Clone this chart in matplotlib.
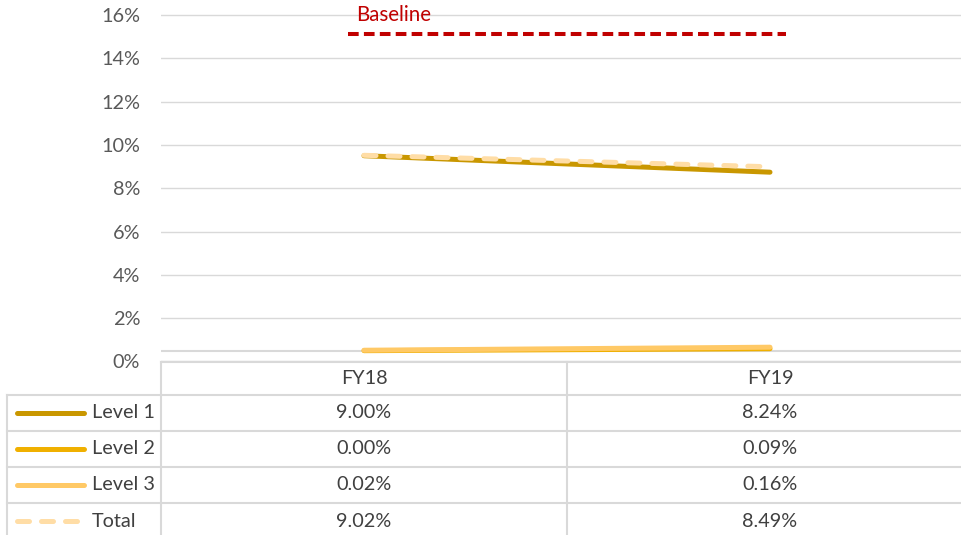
import numpy as np
import matplotlib.pyplot as plt

plt.rcParams['font.family'] = ['Lato', 'DejaVu Sans']

# rates in percent
categories = ['FY18', 'FY19']
series_names = ['Level 1', 'Level 2', 'Level 3', 'Total']
level1 = [9.00, 8.24]
level2 = [0.00, 0.09]
level3 = [0.02, 0.16]
total = [9.02, 8.49]
baseline_value = 14.6
tick_values = [0, 2, 4, 6, 8, 10, 12, 14, 16]

series = [level1, level2, level3, total]
colors = ['#C99700', '#F0B000', '#FFC966', '#FFDDA6']
dashed = [False, False, False, True]

W, H = 962, 535
fig = plt.figure(figsize=(W / 100, H / 100), dpi=100)

# plot area: left edge of the data table up to the first table row
plot_left, plot_bottom = 161, 361.5
col_width = 406
px_per_pct = 21.66
axis_offset = 0.5  # value labels sit half a point below the data origin

ax = fig.add_axes([plot_left / W, (H - plot_bottom) / H,
                   2 * col_width / W, plot_bottom / H])
ax.set_xlim(-0.5, len(categories) - 0.5)
ax.set_ylim(-axis_offset, -axis_offset + plot_bottom / px_per_pct)
ax.set_yticks(np.array(tick_values) - axis_offset)
ax.set_yticklabels([f'{v}%' for v in tick_values])
ax.set_xticks([])
ax.tick_params(axis='y', length=0, pad=15, labelsize=14.3, labelcolor='#595959')
for s in ax.spines.values():
    s.set_visible(False)
ax.grid(axis='y', color='#d9d9d9', lw=1.0)
ax.set_axisbelow(True)
ax.axhline(0, color='#d9d9d9', lw=1.5, zorder=1)

x = np.arange(len(categories))
for vals, c, d in zip(series, colors, dashed):
    if d:
        ax.plot(x, vals, color=c, lw=3.6, dashes=(2.4, 2.4),
                dash_capstyle='round', zorder=3)
    else:
        ax.plot(x, vals, color=c, lw=3.6, solid_capstyle='round', zorder=3)

# baseline reference
ax.plot([-0.04, 1.04], [baseline_value, baseline_value], color='#C00000',
        lw=2.9, dashes=(2.65, 1.3), dash_capstyle='butt', zorder=3)
ax.text(-0.02, baseline_value + 0.92, 'Baseline', color='#C00000',
        fontsize=14.8, va='center', ha='left')

# data table below the plot, laid out in pixels
tb = fig.add_axes([0, 0, 1, 1], zorder=5)
tb.set_xlim(0, W)
tb.set_ylim(H, 0)
tb.axis('off')
tb.patch.set_alpha(0)

grid_c = '#d9d9d9'
row_edges = [plot_bottom, 395, 431, 467, 502.5, H + 5]
tb.plot([plot_left, W], [row_edges[0]] * 2, color=grid_c, lw=1.5)
for y in row_edges[1:-1]:
    tb.plot([7, W], [y, y], color=grid_c, lw=1.5)
tb.plot([7, 7], [row_edges[1], H], color=grid_c, lw=1.5)
for i in range(len(categories)):
    xe = plot_left + i * col_width
    tb.plot([xe, xe], [plot_bottom, H], color=grid_c, lw=1.5)

text_c = '#404040'
col_centers = [plot_left + col_width * (i + 0.5) for i in range(len(categories))]
header_y = (row_edges[0] + row_edges[1]) / 2
for cx, cat in zip(col_centers, categories):
    tb.text(cx, header_y, cat, ha='center', va='center', fontsize=14.3, color=text_c)

for r, (name, vals, c, d) in enumerate(zip(series_names, series, colors, dashed)):
    yc = (row_edges[r + 1] + row_edges[r + 2]) / 2
    if d:
        tb.plot([17, 77], [yc, yc], color=c, lw=3.6, dashes=(2.4, 2.4),
                dash_capstyle='round')
    else:
        tb.plot([17, 84], [yc, yc], color=c, lw=3.6, solid_capstyle='round')
    tb.text(92, yc, name, ha='left', va='center', fontsize=14.3, color=text_c)
    for cx, v in zip(col_centers, vals):
        tb.text(cx, yc, f'{v:.2f}%', ha='center', va='center', fontsize=14.3,
                color=text_c)

fig.savefig('out.png', dpi=100)
